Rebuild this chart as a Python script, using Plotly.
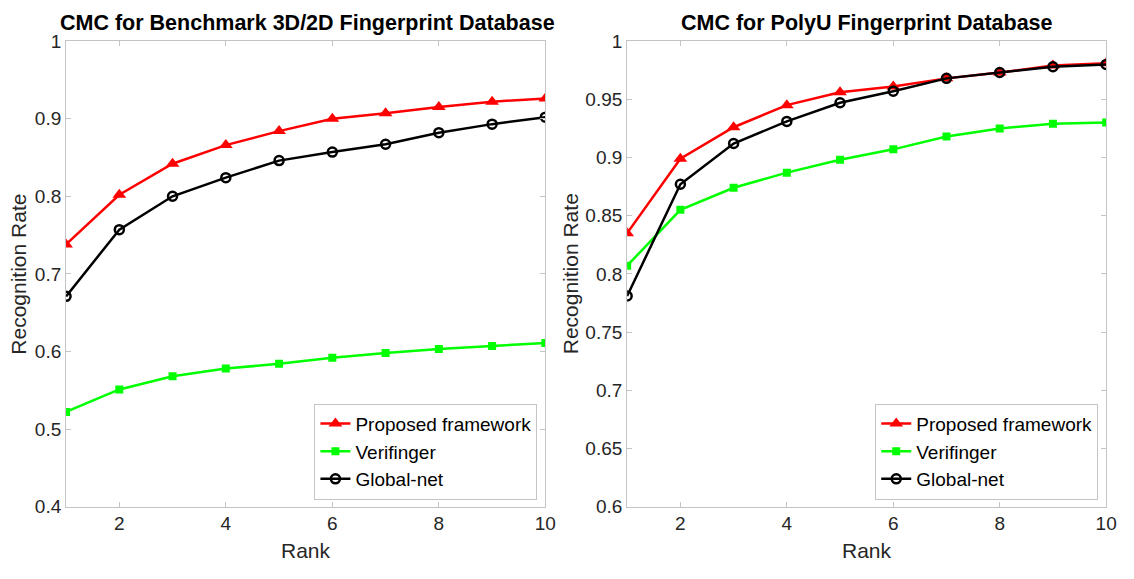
import plotly.graph_objects as go

ranks = [1, 2, 3, 4, 5, 6, 7, 8, 9, 10]

bench_proposed = [0.738, 0.802, 0.842, 0.866, 0.884, 0.900, 0.907, 0.915, 0.922, 0.926]
bench_verifinger = [0.522, 0.551, 0.568, 0.578, 0.584, 0.592, 0.598, 0.603, 0.607, 0.611]
bench_globalnet = [0.671, 0.757, 0.800, 0.824, 0.846, 0.857, 0.867, 0.882, 0.893, 0.902]

polyu_proposed = [0.835, 0.899, 0.926, 0.945, 0.956, 0.961, 0.968, 0.973, 0.979, 0.981]
polyu_verifinger = [0.807, 0.855, 0.874, 0.887, 0.898, 0.907, 0.918, 0.925, 0.929, 0.930]
polyu_globalnet = [0.781, 0.877, 0.912, 0.931, 0.947, 0.957, 0.968, 0.973, 0.978, 0.980]

series_names = ["Proposed framework", "Verifinger", "Global-net"]
titles = ["CMC for Benchmark 3D/2D Fingerprint Database", "CMC for PolyU Fingerprint Database"]

W, H = 1134, 579
FONT = "Liberation Sans, Arial, sans-serif"
TXT = "#262626"
AX = "#c4c4c4"

styles = [
    dict(color="#ff0000", symbol="triangle-up", size=12),
    dict(color="#00ff00", symbol="square", size=8),
    dict(color="#000000", symbol="circle-open", size=9),
]

fig = go.Figure()

panels = [
    (bench_proposed, bench_verifinger, bench_globalnet, "x", "y", "legend"),
    (polyu_proposed, polyu_verifinger, polyu_globalnet, "x2", "y2", "legend2"),
]
for vals_p, vals_v, vals_g, xa, ya, lg in panels:
    for name, vals, st in zip(series_names, [vals_p, vals_v, vals_g], styles):
        mk = dict(color=st["color"], symbol=st["symbol"], size=st["size"])
        if st["symbol"] == "circle-open":
            mk["line"] = dict(color=st["color"], width=2.5)
        fig.add_trace(go.Scatter(
            x=ranks, y=vals, name=name, mode="lines+markers",
            line=dict(color=st["color"], width=2.5),
            marker=mk, xaxis=xa, yaxis=ya, legend=lg,
        ))

def px_x(p):
    return p / W

def px_y(p):
    return 1 - p / H

L_X0, L_X1 = 66.7, 550.7
R_X0, R_X1 = 633.3, 1117.0
Y0, Y1 = 32.3, 515.3

dom_left = [px_x(L_X0), px_x(L_X1)]
dom_right = [px_x(R_X0), px_x(R_X1)]
dom_y = [px_y(Y1), px_y(Y0)]

axis_common = dict(
    showgrid=False, zeroline=False, showline=True, linecolor=AX, linewidth=1,
    mirror="ticks", ticks="inside", ticklen=5, tickcolor=AX,
    tickfont=dict(family=FONT, size=19, color=TXT),
)

legend_common = dict(
    xanchor="right", yanchor="bottom", bgcolor="white", bordercolor=AX, borderwidth=1,
    font=dict(family=FONT, size=19, color="#000000"), tracegroupgap=0, itemwidth=30,
)

fig.update_layout(
    width=W, height=H,
    margin=dict(l=0, r=0, t=0, b=0),
    paper_bgcolor="white", plot_bgcolor="white",
    xaxis=dict(domain=dom_left, range=[1, 10], tickvals=[2, 4, 6, 8, 10], anchor="y", **axis_common),
    yaxis=dict(domain=dom_y, range=[0.4, 1.0], tickvals=[0.4, 0.5, 0.6, 0.7, 0.8, 0.9, 1.0],
               ticktext=["0.4", "0.5", "0.6", "0.7", "0.8", "0.9", "1"], anchor="x", **axis_common),
    xaxis2=dict(domain=dom_right, range=[1, 10], tickvals=[2, 4, 6, 8, 10], anchor="y2", **axis_common),
    yaxis2=dict(domain=dom_y, range=[0.6, 1.0],
                tickvals=[0.6, 0.65, 0.7, 0.75, 0.8, 0.85, 0.9, 0.95, 1.0],
                ticktext=["0.6", "0.65", "0.7", "0.75", "0.8", "0.85", "0.9", "0.95", "1"],
                anchor="x2", **axis_common),
    legend=dict(x=px_x(542.7), y=px_y(508), **legend_common),
    legend2=dict(x=px_x(1109), y=px_y(508), **legend_common),
    showlegend=True,
)

lc = (L_X0 + L_X1) / 2
rc = (R_X0 + R_X1) / 2
yc = (Y0 + Y1) / 2

annotations = []
for t, xc in zip(titles, [lc + 2, rc]):
    annotations.append(dict(text="<b>" + t + "</b>", x=px_x(xc), y=px_y(14), xref="paper", yref="paper",
                            showarrow=False, xanchor="center", yanchor="middle",
                            font=dict(family=FONT, size=21.5, color="#000000")))
for xc in [lc, rc]:
    annotations.append(dict(text="Rank", x=px_x(xc), y=px_y(561), xref="paper", yref="paper",
                            showarrow=False, xanchor="center", yanchor="middle",
                            font=dict(family=FONT, size=21, color=TXT)))
for xc in [19, 576]:
    annotations.append(dict(text="Recognition Rate", x=px_x(xc), y=px_y(yc), xref="paper", yref="paper",
                            showarrow=False, xanchor="center", yanchor="middle", textangle=-90,
                            font=dict(family=FONT, size=21, color=TXT)))
fig.update_layout(annotations=annotations)

fig.write_html("out.html", post_script="document.body.style.margin='0px';")
